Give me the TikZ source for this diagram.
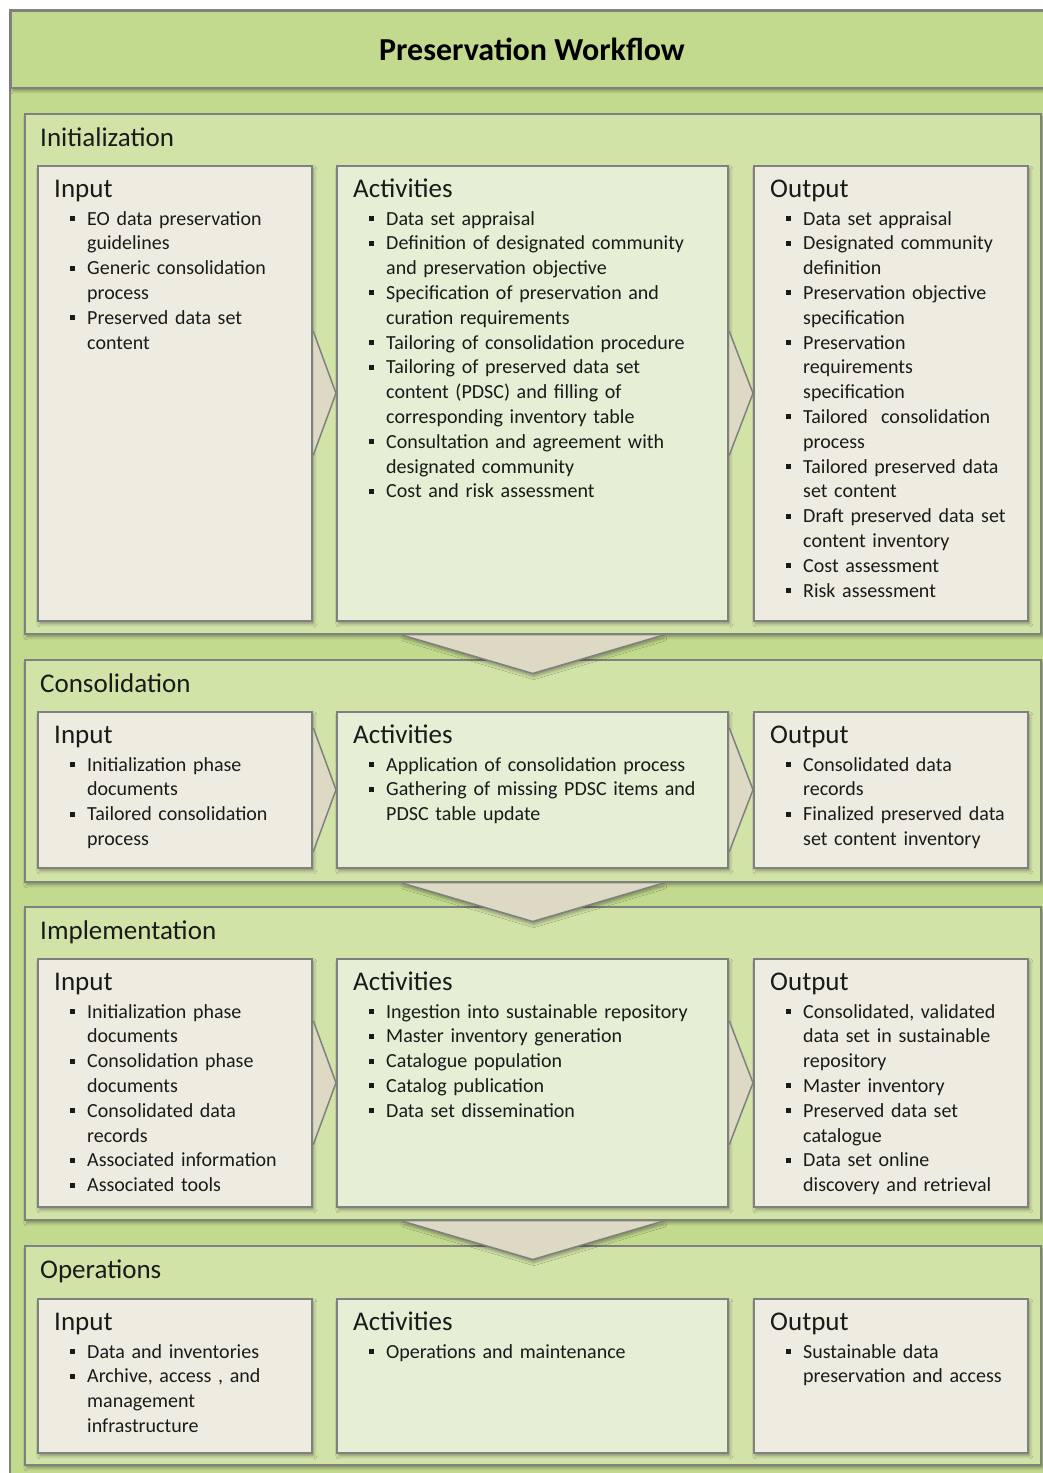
\documentclass[tikz,border=0pt]{standalone}
\usepackage{fontspec}
\setmainfont{Carlito}
\usepackage{enumitem}
\usetikzlibrary{calc,shadows.blur}

\definecolor{bandgreen}{HTML}{C2DA8E}
\definecolor{phasegreen}{HTML}{D2E3A8}
\definecolor{actgreen}{HTML}{E4EFD5}
\definecolor{tanbox}{HTML}{EEECE1}
\definecolor{chevtan}{HTML}{DDD9C4}
\definecolor{edgegray}{HTML}{808080}
\definecolor{inkgray}{HTML}{1A1A1A}

\setlist[itemize]{label=\rule[4pt]{5pt}{5pt}, leftmargin=33pt, labelsep=12pt,
  labelwidth=5pt, align=left, topsep=3.2pt, partopsep=0pt, itemsep=0pt, parsep=0pt}
\newcommand\boxhead[1]{{\fontsize{27}{28}\selectfont #1\par}}

\begin{document}
\begin{tikzpicture}[x=1pt, y=-1pt,
  frame/.style={draw=edgegray, line width=1.5pt, inner sep=0pt, anchor=north west,
    blur shadow={shadow xshift=2pt, shadow yshift=-3pt, shadow blur radius=3pt, shadow opacity=35}},
  phase/.style={frame, fill=phasegreen, minimum width=1016pt, minimum height=#1},
  inbox/.style={frame, fill=tanbox, minimum width=274pt, minimum height=#1},
  actbox/.style={frame, fill=actgreen, minimum width=391pt, minimum height=#1},
  chev/.style={fill=chevtan, draw=edgegray, line width=1.5pt, line join=round},
  phlabel/.style={anchor=base west, inner sep=0pt, text=inkgray, font=\fontsize{27}{28}\selectfont},
  boxtxt/.style={anchor=base west, inner sep=0pt, text width=#1, align=left, text=inkgray,
    font=\fontsize{20}{24.8}\selectfont},
]
\useasboundingbox (0,0) rectangle (1043,1473);
\clip (0,0) rectangle (1043,1473);

% frame and title
\draw[draw=edgegray, line width=1.5pt, fill=bandgreen] (10,10) rectangle (1080,1500);
\node[frame, fill=bandgreen, minimum width=1070pt, minimum height=77pt] (band) at (10,10) {};
\node[font=\bfseries\fontsize{32}{34}\selectfont] (title) at (532,49) {Preservation Workflow};

% phases
\node[phase=520pt] (ph1) at (24,113) {};
\node[phase=222pt] (ph2) at (24,659) {};
\node[phase=313pt] (ph3) at (24,906) {};
\node[phase=219pt] (ph4) at (24,1245) {};

% phase chevrons
\foreach \p in {ph1,ph2,ph3}{
  \path[chev, draw=none, blur shadow={shadow xshift=1pt, shadow yshift=-3pt, shadow blur radius=3pt, shadow opacity=35}]
    ($(\p.south)+(-130,0.75)$) -- ($(\p.south)+(0,39)$) -- ($(\p.south)+(130,0.75)$) -- cycle;
  \draw[chev, fill=none] ($(\p.south)+(-130,0.75)$) -- ($(\p.south)+(0,39)$) -- ($(\p.south)+(130,0.75)$);
}

\node[phlabel] (ph1l) at ($(ph1.north west)+(16,33)$) {Initialization};
\node[phlabel] (ph2l) at ($(ph2.north west)+(16,33)$) {Consolidation};
\node[phlabel] (ph3l) at ($(ph3.north west)+(16,33)$) {Implementation};
\node[phlabel] (ph4l) at ($(ph4.north west)+(16,33)$) {Operations};

% boxes
\node[inbox=455pt] (in1) at (37,165) {};
\node[actbox=455pt] (act1) at (336,165) {};
\node[inbox=455pt] (out1) at (753,165) {};
\node[inbox=156pt] (in2) at (37,711) {};
\node[actbox=156pt] (act2) at (336,711) {};
\node[inbox=156pt] (out2) at (753,711) {};
\node[inbox=248pt] (in3) at (37,958) {};
\node[actbox=248pt] (act3) at (336,958) {};
\node[inbox=248pt] (out3) at (753,958) {};
\node[inbox=154pt] (in4) at (37,1298) {};
\node[actbox=154pt] (act4) at (336,1298) {};
\node[inbox=154pt] (out4) at (753,1298) {};

% step chevrons
\foreach \a/\b in {in1/act1,act1/out1,in2/act2,act2/out2,in3/act3,act3/out3}{
  \path[chev, draw=none] ($(\a.east)+(0.75,-62)$) -- (\b.west) -- ($(\a.east)+(0.75,62)$) -- cycle;
  \draw[chev, fill=none] ($(\a.east)+(0.75,-62)$) -- (\b.west) -- ($(\a.east)+(0.75,62)$);
}

% texts: initialization
\node[boxtxt=255pt] (in1t) at ($(in1.north west)+(17,32)$) {\boxhead{Input}
  \begin{itemize}
  \item EO data preservation\newline guidelines
  \item Generic consolidation\newline process
  \item Preserved data set\newline content
  \end{itemize}};
\node[boxtxt=372pt] (act1t) at ($(act1.north west)+(17,32)$) {\boxhead{Activities}
  \begin{itemize}
  \item Data set appraisal
  \item Definition of designated community\newline and preservation objective
  \item Specification of preservation and\newline curation requirements
  \item Tailoring of consolidation procedure
  \item Tailoring of preserved data set\newline content (PDSC) and filling of\newline corresponding inventory table
  \item Consultation and agreement with\newline designated community
  \item Cost and risk assessment
  \end{itemize}};
\node[boxtxt=255pt] (out1t) at ($(out1.north west)+(17,32)$) {\boxhead{Output}
  \begin{itemize}
  \item Data set appraisal
  \item Designated community\newline definition
  \item Preservation objective\newline specification
  \item Preservation\newline requirements\newline specification
  \item Tailored\ \ consolidation\newline process
  \item Tailored preserved data\newline set content
  \item Draft preserved data set\newline content inventory
  \item Cost assessment
  \item Risk assessment
  \end{itemize}};

% texts: consolidation
\node[boxtxt=255pt] (in2t) at ($(in2.north west)+(17,32)$) {\boxhead{Input}
  \begin{itemize}
  \item Initialization phase\newline documents
  \item Tailored consolidation\newline process
  \end{itemize}};
\node[boxtxt=372pt] (act2t) at ($(act2.north west)+(17,32)$) {\boxhead{Activities}
  \begin{itemize}
  \item Application of consolidation process
  \item Gathering of missing PDSC items and\newline PDSC table update
  \end{itemize}};
\node[boxtxt=255pt] (out2t) at ($(out2.north west)+(17,32)$) {\boxhead{Output}
  \begin{itemize}
  \item Consolidated data\newline records
  \item Finalized preserved data\newline set content inventory
  \end{itemize}};

% texts: implementation
\node[boxtxt=255pt] (in3t) at ($(in3.north west)+(17,32)$) {\boxhead{Input}
  \begin{itemize}
  \item Initialization phase\newline documents
  \item Consolidation phase\newline documents
  \item Consolidated data\newline records
  \item Associated information
  \item Associated tools
  \end{itemize}};
\node[boxtxt=372pt] (act3t) at ($(act3.north west)+(17,32)$) {\boxhead{Activities}
  \begin{itemize}
  \item Ingestion into sustainable repository
  \item Master inventory generation
  \item Catalogue population
  \item Catalog publication
  \item Data set dissemination
  \end{itemize}};
\node[boxtxt=255pt] (out3t) at ($(out3.north west)+(17,32)$) {\boxhead{Output}
  \begin{itemize}
  \item Consolidated, validated\newline data set in sustainable\newline repository
  \item Master inventory
  \item Preserved data set\newline catalogue
  \item Data set online\newline discovery and retrieval
  \end{itemize}};

% texts: operations
\node[boxtxt=255pt] (in4t) at ($(in4.north west)+(17,32)$) {\boxhead{Input}
  \begin{itemize}
  \item Data and inventories
  \item Archive, access , and\newline management\newline infrastructure
  \end{itemize}};
\node[boxtxt=372pt] (act4t) at ($(act4.north west)+(17,32)$) {\boxhead{Activities}
  \begin{itemize}
  \item Operations and maintenance
  \end{itemize}};
\node[boxtxt=255pt] (out4t) at ($(out4.north west)+(17,32)$) {\boxhead{Output}
  \begin{itemize}
  \item Sustainable data\newline preservation and access
  \end{itemize}};

\end{tikzpicture}
\end{document}
